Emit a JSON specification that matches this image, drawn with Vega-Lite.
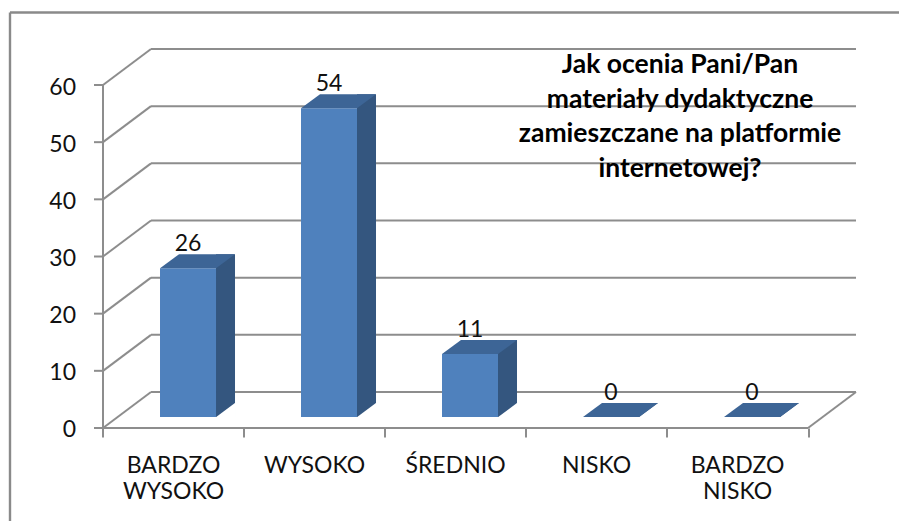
{
  "$schema": "https://vega.github.io/schema/vega-lite/v6.json",
  "width": 889.5,
  "height": 509,
  "autosize": "none",
  "padding": {"left": 9.5, "top": 12, "right": 0, "bottom": 0},
  "background": "white",
  "config": {"view": {"stroke": null}, "font": "Lato"},
  "datasets": {
    "oceny": [
      {"kategoria": "BARDZO WYSOKO", "liczba": 26},
      {"kategoria": "WYSOKO", "liczba": 54},
      {"kategoria": "ŚREDNIO", "liczba": 11},
      {"kategoria": "NISKO", "liczba": 0},
      {"kategoria": "BARDZO NISKO", "liczba": 0}
    ],
    "siatka": [{"v": 0}, {"v": 10}, {"v": 20}, {"v": 30}, {"v": 40}, {"v": 50}, {"v": 60}],
    "tytul": [{"tekst": "Jak ocenia Pani/Pan\nmateriały dydaktyczne\nzamieszczane na platformie\ninternetowej?"}]
  },
  "resolve": {"scale": {"x": "independent"}, "axis": {"x": "independent"}},
  "layer": [
    {
      "data": {"name": "siatka"},
      "layer": [
        {
          "mark": {"type": "rule", "color": "#8d8d8d", "strokeWidth": 2, "x2Offset": 48, "y2Offset": -36},
          "encoding": {
            "x": {"datum": 0, "type": "quantitative", "scale": {"domain": [-0.66312, 5.64539], "nice": false, "zero": false},
                  "axis": {"orient": "bottom", "offset": -93, "values": [0, 1, 2, 3, 4, 5], "labels": false, "domain": false, "ticks": true, "tickSize": 9, "tickColor": "#8d8d8d", "tickWidth": 2, "grid": false, "title": null}},
            "x2": {"datum": 0},
            "y": {"field": "v", "type": "quantitative", "scale": {"domain": [-16.27, 72.77], "nice": false, "zero": false},
                  "axis": {"orient": "left", "values": [0, 10, 20, 30, 40, 50, 60], "domain": true, "domainColor": "#8a8a8a", "domainWidth": 2.4, "ticks": false, "grid": false, "labelPadding": -66, "labelOffset": 2, "labelFontSize": 23, "labelFont": "Lato", "labelColor": "#111111", "title": null}},
            "y2": {"field": "v"}
          }
        },
        {
          "mark": {"type": "rule", "color": "#8d8d8d", "strokeWidth": 2, "xOffset": 48, "x2Offset": 48, "yOffset": -36},
          "encoding": {
            "x": {"datum": 0, "type": "quantitative", "scale": {"domain": [-0.66312, 5.64539], "nice": false, "zero": false}},
            "x2": {"datum": 5},
            "y": {"field": "v", "type": "quantitative", "scale": {"domain": [-16.27, 72.77], "nice": false, "zero": false}}
          }
        },
        {
          "mark": {"type": "rule", "color": "#8d8d8d", "strokeWidth": 2, "xOffset": -9},
          "encoding": {
            "x": {"datum": 0, "type": "quantitative", "scale": {"domain": [-0.66312, 5.64539], "nice": false, "zero": false}},
            "x2": {"datum": 0},
            "y": {"field": "v", "type": "quantitative", "scale": {"domain": [-16.27, 72.77], "nice": false, "zero": false}}
          }
        },
        {
          "data": {"name": "tytul"},
          "layer": [
            {
              "mark": {"type": "rule", "color": "#8d8d8d", "strokeWidth": 2},
              "encoding": {
                "x": {"datum": 0, "type": "quantitative", "scale": {"domain": [-0.66312, 5.64539], "nice": false, "zero": false}},
                "x2": {"datum": 0},
                "y": {"datum": 60, "type": "quantitative", "scale": {"domain": [-16.27, 72.77], "nice": false, "zero": false}},
                "y2": {"datum": 0}
              }
            },
            {
              "mark": {"type": "rule", "color": "#8d8d8d", "strokeWidth": 2},
              "encoding": {
                "x": {"datum": 0, "type": "quantitative", "scale": {"domain": [-0.66312, 5.64539], "nice": false, "zero": false}},
                "x2": {"datum": 5},
                "y": {"datum": 0, "type": "quantitative", "scale": {"domain": [-16.27, 72.77], "nice": false, "zero": false}}
              }
            },
            {
              "mark": {"type": "rule", "color": "#8d8d8d", "strokeWidth": 2, "x2Offset": 48, "y2Offset": -36},
              "encoding": {
                "x": {"datum": 5, "type": "quantitative", "scale": {"domain": [-0.66312, 5.64539], "nice": false, "zero": false}},
                "x2": {"datum": 5},
                "y": {"datum": 0, "type": "quantitative", "scale": {"domain": [-16.27, 72.77], "nice": false, "zero": false}},
                "y2": {"datum": 0}
              }
            },
            {
              "mark": {"type": "text", "font": "Lato", "fontWeight": "bold", "fontSize": 26.5, "color": "#000000", "align": "center", "baseline": "alphabetic", "lineBreak": "\n", "lineHeight": 34.6, "xOffset": 13, "yOffset": -12},
              "encoding": {
                "x": {"datum": 4, "type": "quantitative", "scale": {"domain": [-0.66312, 5.64539], "nice": false, "zero": false}},
                "y": {"datum": 60, "type": "quantitative", "scale": {"domain": [-16.27, 72.77], "nice": false, "zero": false}},
                "text": {"field": "tekst"}
              }
            }
          ]
        }
      ]
    },
    {
      "data": {"name": "oceny"},
      "layer": [
        {
          "mark": {"type": "bar", "width": 19, "xOffset": 52, "yOffset": -25, "y2Offset": -11, "color": "#34567f"},
          "encoding": {
            "x": {"field": "kategoria", "type": "nominal", "sort": null,
                  "scale": {"type": "band", "domain": ["BARDZO WYSOKO", "WYSOKO", "ŚREDNIO", "NISKO", "BARDZO NISKO"], "paddingInner": 0, "paddingOuter": 0.6543, "align": 0.5068},
                  "axis": {"orient": "top", "labels": false, "ticks": false, "domain": true, "domainColor": "#8a8a8a", "domainWidth": 2.4, "grid": false, "title": null}},
            "y": {"field": "liczba", "type": "quantitative", "scale": {"domain": [-16.27, 72.77], "nice": false, "zero": false}},
            "y2": {"datum": 0}
          }
        },
        {
          "mark": {"type": "point", "shape": "M -0.5 0.6 L 19.6 -14.4 L 19.6 1.2 L -0.5 1.2 Z", "size": 4, "filled": true, "fill": "#ffffff", "opacity": 1, "strokeWidth": 0, "xOffset": 42.5, "yOffset": -11},
          "encoding": {
            "x": {"field": "kategoria", "type": "nominal", "sort": null},
            "y": {"datum": 0, "type": "quantitative"}
          }
        },
        {
          "mark": {"type": "bar", "width": 56, "xOffset": 14.5, "yOffset": -11, "y2Offset": -11, "color": "#4f81bd"},
          "encoding": {
            "x": {"field": "kategoria", "type": "nominal", "sort": null},
            "y": {"field": "liczba", "type": "quantitative", "scale": {"domain": [-16.27, 72.77], "nice": false, "zero": false}},
            "y2": {"datum": 0}
          }
        },
        {
          "mark": {"type": "point", "shape": "M 0 0 L 56 0 L 75 -14 L 19 -14 Z", "size": 4, "filled": true, "fill": "#3d6596", "opacity": 1, "strokeWidth": 0, "xOffset": -13.5, "yOffset": -11},
          "encoding": {
            "x": {"field": "kategoria", "type": "nominal", "sort": null},
            "y": {"field": "liczba", "type": "quantitative", "scale": {"domain": [-16.27, 72.77], "nice": false, "zero": false}}
          }
        },
        {
          "mark": {"type": "text", "font": "Lato", "fontSize": 23, "color": "#111111", "align": "center", "baseline": "alphabetic", "xOffset": 14.5, "yOffset": -28},
          "encoding": {
            "x": {"field": "kategoria", "type": "nominal", "sort": null},
            "y": {"field": "liczba", "type": "quantitative", "scale": {"domain": [-16.27, 72.77], "nice": false, "zero": false}},
            "text": {"field": "liczba", "type": "quantitative"}
          }
        },
        {
          "mark": {"type": "text", "font": "Lato", "fontSize": 23, "color": "#111111", "align": "center", "baseline": "alphabetic", "lineBreak": " ", "lineHeight": 26, "yOffset": 45},
          "encoding": {
            "x": {"field": "kategoria", "type": "nominal", "sort": null},
            "y": {"datum": 0, "type": "quantitative"},
            "text": {"field": "kategoria", "type": "nominal"}
          }
        }
      ]
    }
  ]
}
